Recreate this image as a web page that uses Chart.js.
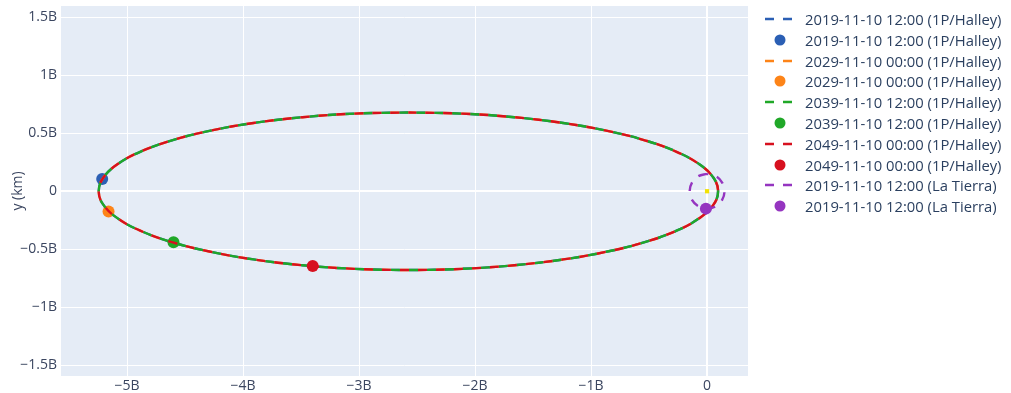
<!DOCTYPE html>
<html>
<head>
<meta charset="utf-8">
<script src="https://cdn.jsdelivr.net/npm/chart.js@4.4.1/dist/chart.umd.min.js"></script>
<style>
  body { margin: 0; background: #fff; }
  #wrap { position: relative; width: 1011px; height: 393px; }
  #legend { position: absolute; left: 765px; top: 8.6px; font-family: 'Open Sans', sans-serif; font-size: 14.8px; color: #2a3f5f; }
  .row { height: 20.8px; display: flex; align-items: center; white-space: nowrap; }
  .row svg { width: 30px; height: 20px; margin-right: 10px; flex: none; }
</style>
</head>
<body>
<div id="wrap">
  <canvas id="myChart" width="1011" height="393"></canvas>
  <div id="legend"></div>
</div>
<script>
// all distances in billions of km
const orbitX = [-2.575, -3.039, -3.488, -3.910, -4.291, -4.620, -4.887, -5.084, -5.204, -5.245,
  -5.204, -5.084, -4.887, -4.620, -4.291, -3.910, -3.488, -3.039, -2.575, -2.111, -1.662, -1.240,
  -0.859, -0.530, -0.263, -0.066, 0.054, 0.095, 0.054, -0.066, -0.263, -0.530, -0.859, -1.240,
  -1.662, -2.111, -2.575];
const orbitY = [0.679, 0.669, 0.638, 0.588, 0.520, 0.437, 0.340, 0.232, 0.118, 0,
  -0.118, -0.232, -0.340, -0.437, -0.520, -0.588, -0.638, -0.669, -0.679, -0.669, -0.638, -0.588,
  -0.520, -0.437, -0.340, -0.232, -0.118, 0, 0.118, 0.232, 0.340, 0.437, 0.520, 0.588,
  0.638, 0.669, 0.679];

const earthOrbitX = [0, -0.075, -0.130, -0.150, -0.130, -0.075, 0, 0.075, 0.130, 0.150, 0.130, 0.075, 0];
const earthOrbitY = [0.150, 0.130, 0.075, 0, -0.075, -0.130, -0.150, -0.130, -0.075, 0, 0.075, 0.130, 0.150];

const halleyDates = ['2019-11-10 12:00', '2029-11-10 00:00', '2039-11-10 12:00', '2049-11-10 00:00'];
const halleyPosX = [-5.215, -5.160, -4.600, -3.400];
const halleyPosY = [0.105, -0.175, -0.440, -0.645];
const halleyColors = ['#2b5fb4', '#fd8418', '#20a828', '#d7111f'];
const dashOffsets = [0, 9, 0, 9];

const earthDate = '2019-11-10 12:00';
const earthPosX = [-0.010];
const earthPosY = [-0.150];
const earthColor = '#9535c0';

const sunX = [0];
const sunY = [0];

const yTicks = [-1.5, -1, -0.5, 0, 0.5, 1, 1.5];
const xTicks = [-5, -4, -3, -2, -1, 0];

function toPoints(xs, ys) {
  return xs.map((x, i) => ({ x: x, y: ys[i] }));
}

function lineSet(label, xs, ys, color, offset) {
  return {
    label: label, data: toPoints(xs, ys), showLine: true, tension: 0.4,
    borderColor: color, backgroundColor: color, borderWidth: 2.4,
    borderDash: [9, 9], borderDashOffset: offset, pointRadius: 0, kind: 'line'
  };
}

function dotSet(label, xs, ys, color) {
  return {
    label: label, data: toPoints(xs, ys), showLine: false,
    backgroundColor: color, borderColor: color, borderWidth: 0, pointRadius: 6, kind: 'dot'
  };
}

const datasets = [];
halleyDates.forEach((d, i) => {
  datasets.push(lineSet(d + ' (1P/Halley)', orbitX, orbitY, halleyColors[i], dashOffsets[i]));
  datasets.push(dotSet(d + ' (1P/Halley)', [halleyPosX[i]], [halleyPosY[i]], halleyColors[i]));
});
datasets.push(lineSet(earthDate + ' (La Tierra)', earthOrbitX, earthOrbitY, earthColor, 0));
datasets.push(dotSet(earthDate + ' (La Tierra)', earthPosX, earthPosY, earthColor));
const sun = dotSet('', sunX, sunY, '#f2e205');
sun.pointRadius = 3;
sun.pointStyle = 'rect';
datasets.push(sun);
// later traces on top
datasets.forEach((ds, i) => { ds.order = datasets.length - i; });

const plotBg = {
  id: 'plotBg',
  beforeDraw(chart) {
    const a = chart.chartArea;
    const ctx = chart.ctx;
    ctx.save();
    ctx.fillStyle = '#e5ecf6';
    ctx.fillRect(a.left, a.top, a.right - a.left, a.bottom - a.top);
    ctx.restore();
  }
};

function fmtB(v) {
  if (v === 0) return '0';
  return (v < 0 ? '\u2212' : '') + parseFloat(Math.abs(v).toFixed(1)) + 'B';
}

const tickFont = { family: "'Open Sans', sans-serif", size: 14 };
const ctx = document.getElementById('myChart').getContext('2d');
const chart = new Chart(ctx, {
  type: 'scatter',
  data: { datasets: datasets },
  options: {
    responsive: false,
    animation: false,
    layout: { padding: { left: 0, right: 263, top: 5, bottom: 0 } },
    plugins: { legend: { display: false }, tooltip: { enabled: false } },
    scales: {
      x: {
        type: 'linear', min: -5.57, max: 0.353,
        afterFit(s) { s.height = 17; s.paddingLeft = 0; s.paddingRight = 0; },
        afterBuildTicks(s) { s.ticks = xTicks.map(v => ({ value: v })); },
        grid: { color: '#ffffff', lineWidth: c => c.tick && c.tick.value === 0 ? 2 : 1, drawTicks: false },
        border: { display: false },
        ticks: { color: '#3b4660', font: tickFont, padding: 2, callback: fmtB }
      },
      y: {
        type: 'linear', min: -1.593, max: 1.597,
        afterFit(s) { s.width = 61; s.paddingTop = 0; s.paddingBottom = 0; },
        afterBuildTicks(s) { s.ticks = yTicks.map(v => ({ value: v })); },
        grid: { color: '#ffffff', lineWidth: c => c.tick && c.tick.value === 0 ? 2 : 1, drawTicks: false },
        border: { display: false },
        ticks: { color: '#3b4660', font: tickFont, padding: 4, callback: fmtB },
        title: { display: true, text: 'y (km)', color: '#3b4660', font: { family: "'Open Sans', sans-serif", size: 14 }, padding: { top: 9.6, bottom: 0 } }
      }
    }
  },
  plugins: [plotBg]
});

function buildLegend() {
  const box = document.getElementById('legend');
  box.innerHTML = '';
  chart.data.datasets.forEach(ds => {
    if (!ds.label) return;
    const row = document.createElement('div');
    row.className = 'row';
    const c = ds.borderColor;
    const sym = ds.kind === 'line'
      ? '<svg viewBox="0 0 30 20"><line x1="0" y1="10" x2="30" y2="10" stroke="' + c + '" stroke-width="2.4" stroke-dasharray="9,9"/></svg>'
      : '<svg viewBox="0 0 30 20"><circle cx="15" cy="10" r="5.5" fill="' + c + '"/></svg>';
    row.innerHTML = sym + '<span>' + ds.label + '</span>';
    box.appendChild(row);
  });
}

buildLegend();
</script>
</body>
</html>
